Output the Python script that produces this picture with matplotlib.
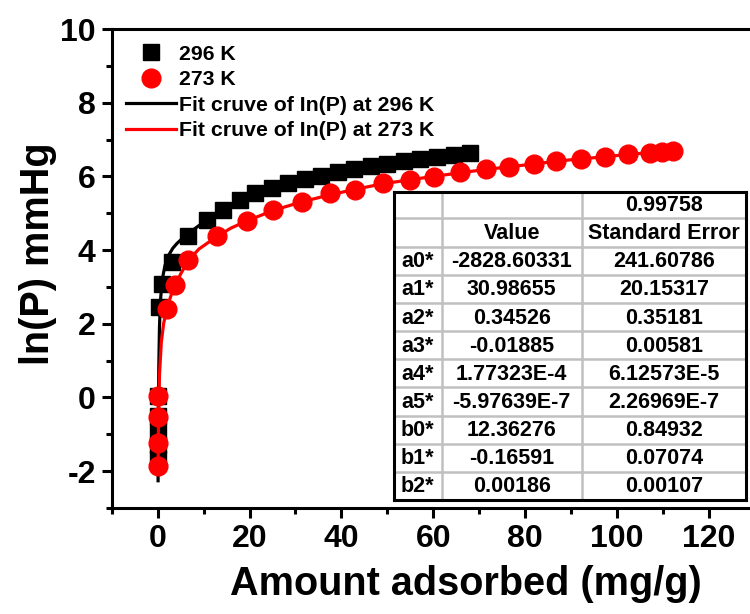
import numpy as np
import matplotlib.pyplot as plt
from matplotlib.ticker import MultipleLocator

plt.rcParams['axes.unicode_minus'] = False

# 296 K data (black squares)
x296 = [0.05, 0.07, 0.09, 0.11, 0.13, 0.2, 0.95, 3.1, 6.7, 10.7, 14.3, 18.0, 21.2,
        24.8, 28.4, 32.0, 35.6, 39.2, 42.8, 46.4, 50.0, 53.6, 57.2, 60.8, 64.4, 68.0]
y296 = [-1.68, -1.3, -0.9, -0.5, 0.05, 2.45, 3.09, 3.68, 4.37, 4.81, 5.10, 5.35, 5.54,
        5.68, 5.81, 5.92, 6.02, 6.11, 6.19, 6.27, 6.34, 6.41, 6.47, 6.53, 6.58, 6.63]

# 273 K data (red circles)
x273 = [0.05, 0.07, 0.09, 0.11, 2.0, 3.85, 6.7, 12.9, 19.4, 25.2, 31.4, 37.5, 43.0,
        49.0, 55.0, 60.1, 65.9, 71.4, 76.5, 82.0, 86.7, 92.2, 97.3, 102.4, 107.1,
        109.7, 112.2]
y273 = [-1.85, -1.24, -0.52, 0.03, 2.41, 3.04, 3.72, 4.37, 4.79, 5.08, 5.31, 5.54, 5.63,
        5.81, 5.89, 5.98, 6.11, 6.20, 6.25, 6.34, 6.43, 6.48, 6.52, 6.61, 6.64,
        6.66, 6.68]

# fit curves
fit296_x = [0.1, 0.15, 0.25, 0.4, 0.6, 1.0, 1.6, 2.4, 3.3, 4.2, 5.5, 6.7, 8.5, 10.7,
            14.3, 18, 21.2, 25, 30, 35, 40, 45, 50, 55, 60, 64, 68]
fit296_y = [-2.26, -0.8, 0.8, 1.9, 2.6, 3.2, 3.58, 3.86, 4.05, 4.18, 4.33, 4.45, 4.62,
            4.82, 5.1, 5.35, 5.54, 5.72, 5.92, 6.08, 6.22, 6.34, 6.43, 6.5, 6.56, 6.6, 6.64]
fit273_x = [0.1, 0.2, 0.4, 0.8, 1.3, 2.0, 3.0, 3.85, 5, 6.7, 9, 12.9, 16, 19.4, 25.2,
            31.4, 37.5, 43, 49, 55, 60, 66, 71.4, 76.5, 82, 86.7, 92.2, 97.3, 102.4,
            107, 112.2]
fit273_y = [-2.0, -0.5, 0.6, 1.5, 2.0, 2.42, 2.8, 3.04, 3.35, 3.72, 4.03, 4.37, 4.6,
            4.79, 5.08, 5.31, 5.5, 5.65, 5.8, 5.91, 6.0, 6.1, 6.19, 6.26, 6.34, 6.41,
            6.48, 6.53, 6.6, 6.64, 6.68]

# fit parameter table
r_value = '0.99758'
params = ['a0*', 'a1*', 'a2*', 'a3*', 'a4*', 'a5*', 'b0*', 'b1*', 'b2*']
values = ['-2828.60331', '30.98655', '0.34526', '-0.01885', '1.77323E-4',
          '-5.97639E-7', '12.36276', '-0.16591', '0.00186']
errors = ['241.60786', '20.15317', '0.35181', '0.00581', '6.12573E-5',
          '2.26969E-7', '0.84932', '0.07074', '0.00107']

plain = ['Liberation Sans', 'DejaVu Sans']

fig = plt.figure(figsize=(7.5, 6.14), dpi=100)
ax = fig.add_axes([0.1489, 0.1726, 0.8577, 0.7801])

ax.plot(fit296_x, fit296_y, '-', color='black', lw=2.3, label='Fit cruve of In(P) at 296 K', zorder=2)
ax.plot(fit273_x, fit273_y, '-', color='red', lw=2.3, label='Fit cruve of In(P) at 273 K', zorder=4)
ax.plot(x296, y296, 's', color='black', ms=11.5, ls='none', label='296 K', zorder=3)
ax.plot(x273, y273, 'o', color='red', ms=13.5, ls='none', label='273 K', zorder=5)

ax.set_xlim(-10, 130)
ax.set_ylim(-3, 10)
ax.xaxis.set_major_locator(MultipleLocator(20))
ax.xaxis.set_minor_locator(MultipleLocator(10))
ax.yaxis.set_major_locator(MultipleLocator(2))
ax.yaxis.set_minor_locator(MultipleLocator(1))
ax.tick_params(which='major', direction='out', length=7.5, width=2.2, pad=4)
ax.tick_params(which='minor', direction='out', length=4.5, width=2.2)
for s in ax.spines.values():
    s.set_linewidth(2.2)

for lab in ax.get_xticklabels() + ax.get_yticklabels():
    lab.set_family(plain)
    lab.set_fontweight('bold')
    lab.set_fontsize(23)

ax.set_xlabel('Amount adsorbed (mg/g)', family=plain, fontweight='bold', fontsize=28.5)
ax.set_ylabel('ln(P) mmHg', family=plain, fontweight='bold', fontsize=28.5)
ax.xaxis.set_label_coords(0.551, -0.118)
ax.yaxis.set_label_coords(-0.085, 0.532)

h, l = ax.get_legend_handles_labels()
order = [2, 3, 0, 1]
leg = ax.legend([h[i] for i in order], [l[i] for i in order], loc='upper left',
                bbox_to_anchor=(0.022, 0.967), frameon=False, borderpad=0,
                borderaxespad=0, handlelength=2.35, handletextpad=0.15,
                labelspacing=0.3, prop={'family': plain, 'weight': 'bold', 'size': 15.3})

# table drawn in its own axes, pixel-like coordinates
tx0, tx1, ty0, ty1 = 394, 746, 191.7, 500
col_lines = [441.7, 581.7]
row_lines = [218, 246.7] + [246.7 + 28.14 * k for k in range(1, 9)]
tab = fig.add_axes([tx0 / 750, (614 - ty1) / 614, (tx1 - tx0) / 750, (ty1 - ty0) / 614])
tab.set_xlim(tx0, tx1)
tab.set_ylim(ty1, ty0)
tab.set_xticks([])
tab.set_yticks([])
for s in tab.spines.values():
    s.set_linewidth(2.2)
for c in col_lines:
    tab.axvline(c, color='#c0c0c0', lw=1.8)
for r in row_lines:
    tab.axhline(r, color='#c0c0c0', lw=1.8)

cx = [(tx0 + col_lines[0]) / 2, (col_lines[0] + col_lines[1]) / 2, (col_lines[1] + tx1) / 2]
tprops = dict(family=plain, fontweight='bold', fontsize=15.5, ha='center', va='center')
tab.text(cx[2], (ty0 + 218) / 2 + 1, r_value, **tprops)
tab.text(cx[1], (218 + 246.7) / 2 + 1, 'Value', **tprops)
tab.text(cx[2], (218 + 246.7) / 2 + 1, 'Standard Error', **tprops)
edges = [246.7 + 28.14 * k for k in range(10)]
for i in range(len(params)):
    yc = (edges[i] + edges[i + 1]) / 2 + 1
    tab.text(cx[0], yc, params[i], **tprops)
    tab.text(cx[1], yc, values[i], **tprops)
    tab.text(cx[2], yc, errors[i], **tprops)

fig.savefig('out.png', dpi=100)
